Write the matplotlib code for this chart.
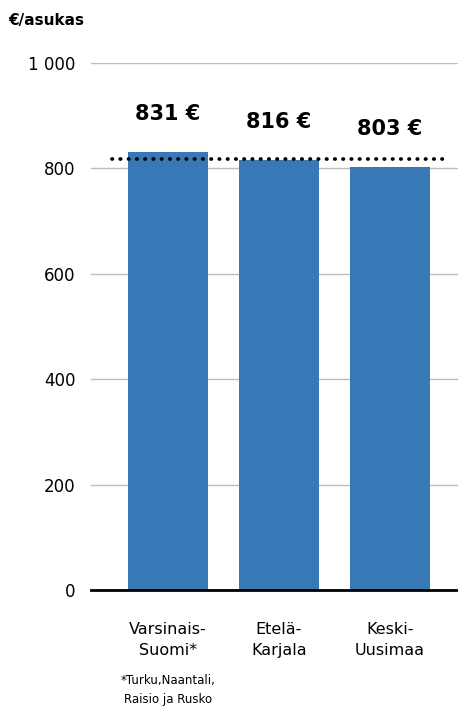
import matplotlib.pyplot as plt

# data
regions = ["Varsinais-\nSuomi*", "Etelä-\nKarjala", "Keski-\nUusimaa"]
values = [831, 816, 803]
bar_labels = ["831 €", "816 €", "803 €"]
average = 818
yticks = [0, 200, 400, 600, 800, 1000]
ytick_labels = ["0", "200", "400", "600", "800", "1 000"]
footnote = "*Turku,Naantali,\nRaisio ja Rusko"

bar_color = "#3779b7"

fig = plt.figure(figsize=(4.58, 7.09), dpi=100)
ax = fig.add_axes([91 / 458, 1 - 590 / 709, (458 - 91) / 458, (590 - 63) / 709])

x = range(len(values))
bars = ax.bar(x, values, width=0.72, color=bar_color, zorder=2)

# keskiarvo pisteviivana
ax.plot([-0.505, 2.51], [average, average], linestyle=(0, (0.1, 2.1)),
        color="black", linewidth=2.7, dash_capstyle="round", zorder=3)

for b, lab in zip(bars, bar_labels):
    ax.annotate(lab, (b.get_x() + b.get_width() / 2, b.get_height()),
                xytext=(0, 20), textcoords="offset points",
                ha="center", va="bottom", fontsize=15, fontweight="heavy",
                family="DejaVu Sans")

ax.set_xlim(-0.694, 2.613)
ax.set_ylim(0, 1000)
ax.set_yticks(yticks)
ax.set_yticklabels(ytick_labels)
ax.set_xticks(list(x))
ax.set_xticklabels(regions, fontsize=11.5, linespacing=1.5)
ax.tick_params(axis="y", length=0, pad=11, labelsize=12)
ax.tick_params(axis="x", length=0, pad=23)

ax.grid(axis="y", color="#bdbdbd", linewidth=1, zorder=0)
for s in ["top", "right", "left"]:
    ax.spines[s].set_visible(False)
ax.spines["bottom"].set_linewidth(2)
ax.spines["bottom"].set_zorder(4)

fig.text(8 / 458, 1 - 20 / 709, "€/asukas", fontsize=11, fontweight="bold",
         ha="left", va="center")
fig.text(168 / 458, 1 - 690 / 709, footnote, fontsize=8.5, ha="center",
         va="center", linespacing=1.6)

fig.savefig("out.png", dpi=100)
